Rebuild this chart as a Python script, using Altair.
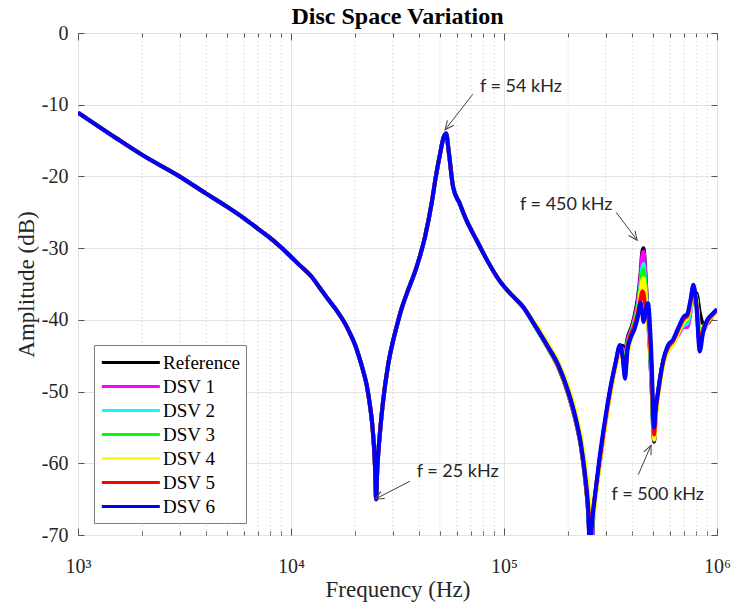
import altair as alt
import pandas as pd

# ---------------- data (frequency in kHz, amplitude in dB) ----------------
low_khz = [1, 1.5, 2, 3, 4, 5, 6, 7, 8, 9, 10, 11, 12.5, 13.7, 15, 16.4, 18, 19, 20, 21,
           22, 22.7, 23.5, 24, 24.5, 24.8, 25.1, 25.4, 25.7, 26.2, 27, 28.6, 30, 31.3, 33,
           35, 38.9, 42.6, 45.7, 48, 50, 52, 53.5, 55, 57.7, 62, 66.6, 74.4, 83, 95.6, 110, 123]
low_db = [-11.1, -14.6, -17.0, -20.0, -22.4, -24.2, -25.8, -27.3, -28.6, -29.9, -31.2, -32.4,
          -34.0, -35.6, -37.2, -38.7, -40.6, -42.0, -43.5, -45.4, -47.5, -49.2, -52.0, -54.2,
          -57.5, -60.5, -65.0, -61.0, -58.5, -55.5, -51.6, -46.2, -43.2, -41.0, -38.5, -36.3,
          -32.6, -28.4, -23.8, -19.8, -17.0, -14.6, -14.0, -16.5, -21.5, -23.8, -26.1, -28.9,
          -31.6, -34.6, -36.7, -38.2]

high_khz = [140, 160, 180, 200, 215, 230, 240, 248, 253, 258, 263, 270, 280, 295, 315, 335,
            350, 360, 370, 380, 395, 410, 425, 438, 446, 452, 458, 466, 475, 485, 495, 502,
            507, 515, 530, 560, 590, 620, 660, 700, 725, 750, 775, 800, 830, 860, 900, 950, 1000]

ref_db = [-40.9, -43.8, -46.6, -50.3, -53.6, -57.8, -62.0, -66.5, -71.0, -71.5, -67.0, -64.0,
          -60.5, -55.6, -50.2, -46.2, -44.0, -43.6, -44.5, -42.6, -41.2, -39.5, -37.0, -33.5,
          -30.5, -30.0, -32.0, -36.0, -40.0, -44.5, -50.5, -55.5, -57.0, -53.5, -50.0, -45.6,
          -43.8, -43.0, -41.5, -40.0, -39.6, -38.3, -36.8, -36.3, -39.0, -40.5, -40.5, -39.5, -38.7]
dsv1_db = [-40.9, -43.8, -46.6, -50.3, -53.6, -57.8, -62.0, -66.5, -71.0, -71.0, -67.0, -64.0,
           -60.3, -55.4, -50.0, -46.0, -43.8, -44.0, -45.5, -43.0, -41.5, -39.8, -37.5, -34.0,
           -31.0, -30.5, -32.5, -36.5, -40.2, -44.5, -50.3, -55.3, -56.8, -53.3, -50.0, -45.8,
           -44.0, -43.3, -42.0, -41.0, -41.0, -39.0, -36.0, -37.0, -41.5, -41.5, -40.5, -39.5, -38.7]
dsv2_db = [-40.9, -43.8, -46.6, -50.2, -53.5, -57.6, -61.8, -65.5, -68.8, -68.5, -66.0, -63.5,
           -60.0, -55.3, -50.0, -46.0, -43.8, -44.5, -46.0, -43.3, -41.8, -40.2, -38.2, -35.0,
           -32.8, -32.2, -33.8, -37.0, -40.0, -44.0, -49.8, -55.0, -56.5, -53.0, -50.0, -45.8,
           -44.0, -43.2, -41.8, -40.7, -40.5, -38.7, -35.8, -37.2, -42.0, -41.3, -40.3, -39.4, -38.6]
dsv3_db = [-40.9, -43.8, -46.6, -50.2, -53.5, -57.6, -62.0, -66.5, -70.5, -70.0, -66.5, -63.8,
           -60.2, -55.4, -50.1, -46.0, -43.8, -44.7, -46.5, -43.5, -41.9, -40.4, -38.5, -35.5,
           -33.5, -33.0, -34.5, -37.3, -40.0, -43.8, -49.6, -55.0, -56.5, -53.0, -50.0, -45.9,
           -44.1, -43.3, -41.7, -40.3, -40.0, -38.3, -35.6, -37.5, -42.8, -41.2, -40.2, -39.3, -38.6]
dsv4_db = [-40.5, -43.2, -45.9, -49.3, -52.4, -56.4, -59.9, -63.5, -66.5, -68.0, -67.5, -64.5,
           -60.7, -55.9, -50.5, -46.5, -44.3, -45.2, -47.8, -44.8, -42.6, -41.0, -38.8, -36.0,
           -34.5, -34.2, -35.2, -37.8, -40.5, -43.5, -48.5, -54.0, -56.7, -54.0, -50.6, -46.3,
           -44.3, -43.5, -41.7, -40.2, -39.8, -38.2, -36.0, -37.2, -42.5, -41.5, -40.4, -39.5, -38.7]
dsv5_db = [-40.8, -43.7, -46.5, -50.1, -53.4, -57.6, -61.8, -66.0, -68.5, -68.0, -66.0, -63.5,
           -60.0, -55.2, -49.9, -45.9, -43.6, -45.0, -47.5, -43.8, -42.0, -40.8, -39.0, -37.0,
           -36.0, -36.3, -37.5, -38.5, -39.5, -43.0, -48.5, -54.5, -56.0, -53.0, -50.0, -45.7,
           -43.8, -43.0, -41.3, -39.8, -39.5, -37.6, -35.4, -37.8, -43.5, -41.5, -40.2, -39.3, -38.6]
dsv6_db = [-40.8, -43.6, -46.3, -49.9, -53.2, -57.4, -61.5, -66.0, -72.0, -69.0, -66.5, -63.5,
           -59.5, -54.8, -49.6, -45.8, -43.5, -45.0, -48.2, -44.2, -42.4, -41.3, -39.6, -37.6,
           -39.0, -40.3, -39.6, -38.2, -37.7, -41.0, -47.0, -53.5, -55.0, -52.5, -49.8, -45.6,
           -43.5, -42.8, -41.0, -39.5, -39.2, -37.3, -35.1, -38.0, -44.4, -41.8, -40.0, -39.2, -38.5]

series_names = ["Reference", "DSV 1", "DSV 2", "DSV 3", "DSV 4", "DSV 5", "DSV 6"]
series_high = [ref_db, dsv1_db, dsv2_db, dsv3_db, dsv4_db, dsv5_db, dsv6_db]
series_colors = ["#000000", "#ff00ff", "#00ffff", "#00ff00", "#ffff00", "#ff0000", "#0000ff"]

# annotations
ann_text = ["f = 54 kHz", "f = 450 kHz", "f = 25 kHz", "f = 500 kHz"]
ann_text_khz = [77.1, 118.9, 38.9, 320]
ann_text_db = [-7.5, -24.0, -61.2, -64.4]
arrow_tail_khz = [71.3, 336, 36.2, 427]
arrow_tail_db = [-8.55, -25.0, -62.5, -61.6]
arrow_head_khz = [52.9, 422, 24.8, 490]
arrow_head_db = [-13.5, -28.9, -65.0, -57.5]
arrow_angle = [218, 143, 242, 24]

decade_ticks = [1e3, 1e4, 1e5, 1e6]
minor_ticks = [m * d for d in [1e3, 1e4, 1e5] for m in range(2, 10)]
all_x_ticks = sorted(decade_ticks + minor_ticks)
y_ticks = [-70, -60, -50, -40, -30, -20, -10, 0]

# ---------------- chart ----------------
W, H = 639, 502
SERIF = "Liberation Serif"
xscale = alt.Scale(type="log", domain=[1e3, 1e6], nice=False)
yscale = alt.Scale(domain=[-70, 0], nice=False, zero=False)
cscale = alt.Scale(domain=series_names, range=series_colors)

legend = alt.Legend(title=None, orient="none", legendX=16, legendY=312, direction="vertical",
                    symbolType="M -1 0 L 5 0", symbolSize=374, symbolStrokeWidth=3,
                    labelFont=SERIF, labelFontSize=19, labelColor="black", labelOffset=40,
                    padding=6, strokeColor="#7f7f7f", fillColor="white", rowPadding=2,
                    labelLimit=300)

main_x_axis = alt.Axis(values=decade_ticks,
                       labelExpr="datum.value == 1000 ? '10³' : datum.value == 10000 ? '10⁴' : datum.value == 100000 ? '10⁵' : '10⁶'",
                       labelFont=SERIF, labelFontSize=20, labelColor="#262626", labelPadding=21,
                       labelFlush=False, labelOverlap=False, ticks=False, tickSize=0, domain=False,
                       grid=True, gridColor="#e3e3e3", gridWidth=1,
                       title="Frequency (Hz)", titleFont=SERIF, titleFontSize=23,
                       titleFontWeight="normal", titleColor="#262626", titlePadding=2)
main_y_axis = alt.Axis(values=y_ticks, labelExpr="'' + datum.value",
                       labelFont=SERIF, labelFontSize=20, labelColor="#262626", labelPadding=10,
                       ticks=False, tickSize=0, domain=False, grid=True, gridColor="#e3e3e3",
                       gridWidth=1, title="Amplitude (dB)", titleFont=SERIF, titleFontSize=23,
                       titleFontWeight="normal", titleColor="#262626", titlePadding=3)

major_test = "indexof([1000, 10000, 100000, 1000000], datum.value) >= 0"
tick_size_x = {"condition": {"test": major_test, "value": 7}, "value": 4}


def x_tick_axis(orient):
    return alt.Axis(orient=orient, offset=-H, values=all_x_ticks, labels=False, ticks=True,
                    tickSize=tick_size_x, tickColor="#555555", domain=False, grid=False, title=None)


def y_tick_axis(orient):
    return alt.Axis(orient=orient, offset=-W, values=y_ticks, labels=False, ticks=True,
                    tickSize=6, tickColor="#555555", domain=False, grid=False, title=None)


layers = []

# minor dotted grid
minor_df = pd.DataFrame({"f": minor_ticks})
layers.append(alt.Chart(minor_df).mark_rule(color="#c8c8c8", strokeDash=[1, 3], strokeWidth=1)
              .encode(x=alt.X("f:Q", scale=xscale, axis=None)))

# series
for i, (name, high) in enumerate(zip(series_names, series_high)):
    df = pd.DataFrame({"freq": [f * 1000 for f in low_khz + high_khz],
                       "amp": low_db + high, "series": name})
    layers.append(alt.Chart(df).mark_line(strokeWidth=4, interpolate="monotone", clip=True)
                  .encode(x=alt.X("freq:Q", scale=xscale, axis=main_x_axis if i == 0 else None),
                          y=alt.Y("amp:Q", scale=yscale, axis=main_y_axis if i == 0 else None),
                          color=alt.Color("series:N", scale=cscale, legend=legend)))

# annotations
ann_df = pd.DataFrame({"text": ann_text,
                       "tx": [v * 1000 for v in ann_text_khz], "ty": ann_text_db,
                       "x1": [v * 1000 for v in arrow_tail_khz], "y1": arrow_tail_db,
                       "x2": [v * 1000 for v in arrow_head_khz], "y2": arrow_head_db,
                       "angle": arrow_angle})
layers.append(alt.Chart(ann_df).mark_rule(color="#404040", strokeWidth=1)
              .encode(x=alt.X("x1:Q", scale=xscale, axis=None), x2="x2:Q",
                      y=alt.Y("y1:Q", scale=yscale, axis=None), y2="y2:Q"))
layers.append(alt.Chart(ann_df).mark_point(shape="M -0.45 1 L 0 0 L 0.45 1", filled=False,
                                           color="#404040", strokeWidth=1, size=320, opacity=1)
              .encode(x=alt.X("x2:Q", scale=xscale, axis=None),
                      y=alt.Y("y2:Q", scale=yscale, axis=None),
                      angle=alt.Angle("angle:Q", scale=None)))
layers.append(alt.Chart(ann_df).mark_text(align="left", baseline="middle", font="Lato",
                                          fontSize=18, color="#262626")
              .encode(x=alt.X("tx:Q", scale=xscale, axis=None),
                      y=alt.Y("ty:Q", scale=yscale, axis=None), text="text:N"))

# inward box ticks
xt_df = pd.DataFrame({"f": all_x_ticks})
yt_df = pd.DataFrame({"v": y_ticks})
layers.append(alt.Chart(xt_df).mark_rule(opacity=0)
              .encode(x=alt.X("f:Q", scale=xscale, axis=x_tick_axis("top"))))
layers.append(alt.Chart(xt_df).mark_rule(opacity=0)
              .encode(x=alt.X("f:Q", scale=xscale, axis=x_tick_axis("bottom"))))
layers.append(alt.Chart(yt_df).mark_rule(opacity=0)
              .encode(y=alt.Y("v:Q", scale=yscale, axis=y_tick_axis("right"))))
layers.append(alt.Chart(yt_df).mark_rule(opacity=0)
              .encode(y=alt.Y("v:Q", scale=yscale, axis=y_tick_axis("left"))))

chart = (alt.layer(*layers)
         .resolve_axis(x="independent", y="independent")
         .properties(width=W, height=H,
                     title=alt.TitleParams("Disc Space Variation", font=SERIF, fontSize=24,
                                           fontWeight="bold", color="black", anchor="middle",
                                           offset=-6),
                     autosize=alt.AutoSizeParams(type="none"),
                     padding={"left": 78, "top": 33, "right": 14, "bottom": 73})
         .configure_view(stroke="#6e6e6e", strokeWidth=1)
         .configure(background="white"))

chart.save("out.html", embed_options={"renderer": "svg", "actions": False})
